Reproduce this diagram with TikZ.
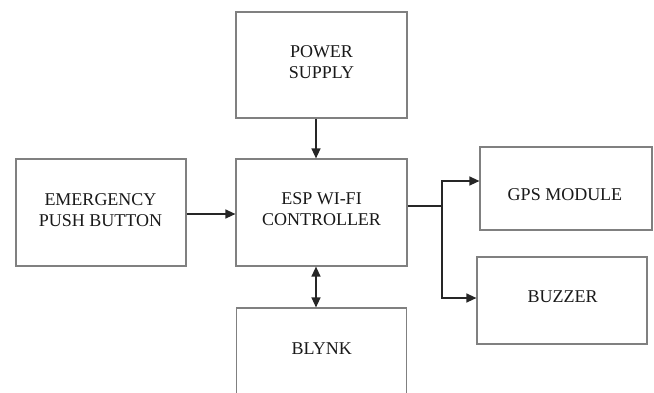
\documentclass[tikz,border=0pt]{standalone}
\usepackage{fontspec}
\setmainfont{Liberation Serif}
\usetikzlibrary{arrows.meta,calc}
\begin{document}
\begin{tikzpicture}[x=1pt,y=-1pt,
  box/.style={draw=black!50, line width=1.2pt, rectangle, inner sep=0pt, fill=white},
  lbl/.style={anchor=base, align=center, inner sep=0pt, font=\fontsize{18}{21}\selectfont, text=black!90},
  conn/.style={draw=black!85, line width=1.3pt},
  arr/.style={conn, -{Triangle[length=10pt,width=9pt]}},
  darr/.style={conn, {Triangle[length=10pt,width=9pt]}-{Triangle[length=10pt,width=9pt]}}]
\useasboundingbox (0,0) rectangle (654,392);
% boxes
\node[box, minimum width=171pt, minimum height=106pt] (power) at (321.5,65) {};
\node[box, minimum width=171pt, minimum height=107pt] (esp) at (321.5,212.5) {};
\node[box, minimum width=170pt, minimum height=107pt] (emer) at (101,212.5) {};
\node[box, minimum width=172pt, minimum height=83pt] (gps) at (566,188.5) {};
\node[box, minimum width=170pt, minimum height=87pt] (buzzer) at (562,300.5) {};
\node[box, minimum width=170pt, minimum height=100pt] (blynk) at (321.5,358) {};
% labels (base anchor = baseline of last line)
\node[lbl] (tpower) at (321.5,78) {POWER\\SUPPLY};
\node[lbl] (tesp) at (321.5,225) {ESP WI-FI\\CONTROLLER};
\node[lbl] (temer) at (100.5,226) {EMERGENCY\\PUSH BUTTON};
\node[lbl] (tgps) at (565,200) {GPS MODULE};
\node[lbl] (tbuzz) at (562.5,302.3) {BUZZER};
\node[lbl] (tblynk) at (321.7,354.3) {BLYNK};
% connectors
\coordinate (branch) at (442,206);
\draw[arr] ([xshift=-5.5pt]power.south) -- ([xshift=-5.5pt]esp.north);
\draw[arr] ([yshift=-1.5pt]emer.east) -- ([yshift=-1.5pt]esp.west);
\draw[conn] ([yshift=6.5pt]esp.east) -- (branch);
\draw[arr] (branch) |- ([yshift=7.5pt]gps.west);
\draw[arr] (branch) |- ([yshift=2.5pt]buzzer.west);
\draw[darr] ([xshift=-5.5pt]esp.south) -- ([xshift=-5.5pt]blynk.north);
\end{tikzpicture}
\end{document}
